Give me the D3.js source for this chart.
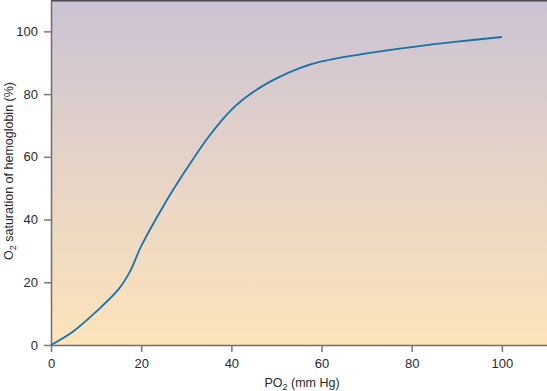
<!DOCTYPE html>
<html>
<head>
<meta charset="utf-8">
<script src="https://cdn.jsdelivr.net/npm/d3@7"></script>
<style>
  body { margin: 0; background: #fff; }
  svg { display: block; }
</style>
</head>
<body>
<div id="chart"></div>
<script>
var po2 = [0, 5, 10, 15, 17.5, 20, 25, 30, 35, 40, 45, 50, 55, 60, 70, 80, 90, 100];
var saturation = [0, 4.4, 10.6, 17.8, 23.4, 31.5, 44.5, 56, 66.5, 75, 80.8, 85, 88.2, 90.4, 93, 95, 96.7, 98.2];
var xTicks = [0, 20, 40, 60, 80, 100];
var yTicks = [0, 20, 40, 60, 80, 100];

var svgWidth = 547;
var svgHeight = 391;

var margin = { top: 0, right: 0, bottom: 46, left: 51 };
var width = svgWidth - margin.left - margin.right;
var height = svgHeight - margin.top - margin.bottom;

var svg = d3.select("#chart")
  .append("svg")
  .attr("width", svgWidth)
  .attr("height", svgHeight);

var defs = svg.append("defs");
var grad = defs.append("linearGradient")
  .attr("id", "bg")
  .attr("x1", 0).attr("y1", 0)
  .attr("x2", 0).attr("y2", 1);
grad.append("stop").attr("offset", "0%").attr("stop-color", "#cbc3d4");
grad.append("stop").attr("offset", "50%").attr("stop-color", "#e6d4c6");
grad.append("stop").attr("offset", "100%").attr("stop-color", "#fde4ba");

var chartGroup = svg.append("g")
  .attr("transform", `translate(${margin.left}, ${margin.top})`);

var xScale = d3.scaleLinear().domain([0, 110]).range([0, width]);
var yScale = d3.scaleLinear().domain([0, 110]).range([height, 0]);

chartGroup.append("rect")
  .attr("width", width)
  .attr("height", height)
  .attr("fill", "url(#bg)");

// top border
chartGroup.append("line")
  .attr("x1", 0).attr("x2", width)
  .attr("y1", 0.75).attr("y2", 0.75)
  .attr("stroke", "#4a4a4a")
  .attr("stroke-width", 1.5);

var xAxis = d3.axisBottom(xScale).tickValues(xTicks).tickSize(7).tickPadding(7).tickSizeOuter(0);
var yAxis = d3.axisLeft(yScale).tickValues(yTicks).tickSize(7).tickPadding(6).tickSizeOuter(0);

var xg = chartGroup.append("g")
  .attr("class", "x axis")
  .attr("transform", `translate(0, ${height})`)
  .call(xAxis);

var yg = chartGroup.append("g")
  .attr("class", "y axis")
  .call(yAxis);

[xg, yg].forEach(g => {
  g.select(".domain").attr("stroke", "#6e6e6e").attr("stroke-width", 1.5);
  g.selectAll(".tick line").attr("stroke", "#7a7a7a").attr("stroke-width", 1.5);
  g.selectAll(".tick text")
    .attr("fill", "#2a2a2a")
    .attr("font-family", "'Liberation Sans', Arial, sans-serif")
    .attr("font-size", "13px");
});

var points = po2.map((d, i) => [d, saturation[i]]);

var line = d3.line()
  .x(d => xScale(d[0]))
  .y(d => yScale(d[1]))
  .curve(d3.curveCatmullRom.alpha(0.5));

chartGroup.append("path")
  .datum(points)
  .attr("d", line)
  .attr("fill", "none")
  .attr("stroke", "#1673a6")
  .attr("stroke-width", 1.8);

// axis titles
var xLabel = svg.append("text")
  .attr("x", 302)
  .attr("y", 387)
  .attr("text-anchor", "middle")
  .attr("fill", "#2a2a2a")
  .attr("font-family", "'Liberation Sans', Arial, sans-serif")
  .attr("font-size", "12.5px");
xLabel.append("tspan").text("PO");
xLabel.append("tspan").attr("font-size", "9px").attr("dy", 3).text("2");
xLabel.append("tspan").attr("dy", -3).text(" (mm Hg)");

var yLabel = svg.append("text")
  .attr("transform", "translate(12.5, 171) rotate(-90)")
  .attr("text-anchor", "middle")
  .attr("fill", "#2a2a2a")
  .attr("font-family", "'Liberation Sans', Arial, sans-serif")
  .attr("font-size", "12.5px");
yLabel.append("tspan").text("O");
yLabel.append("tspan").attr("font-size", "9px").attr("dy", 3).text("2");
yLabel.append("tspan").attr("dy", -3).text(" saturation of hemoglobin (%)");
</script>
</body>
</html>
